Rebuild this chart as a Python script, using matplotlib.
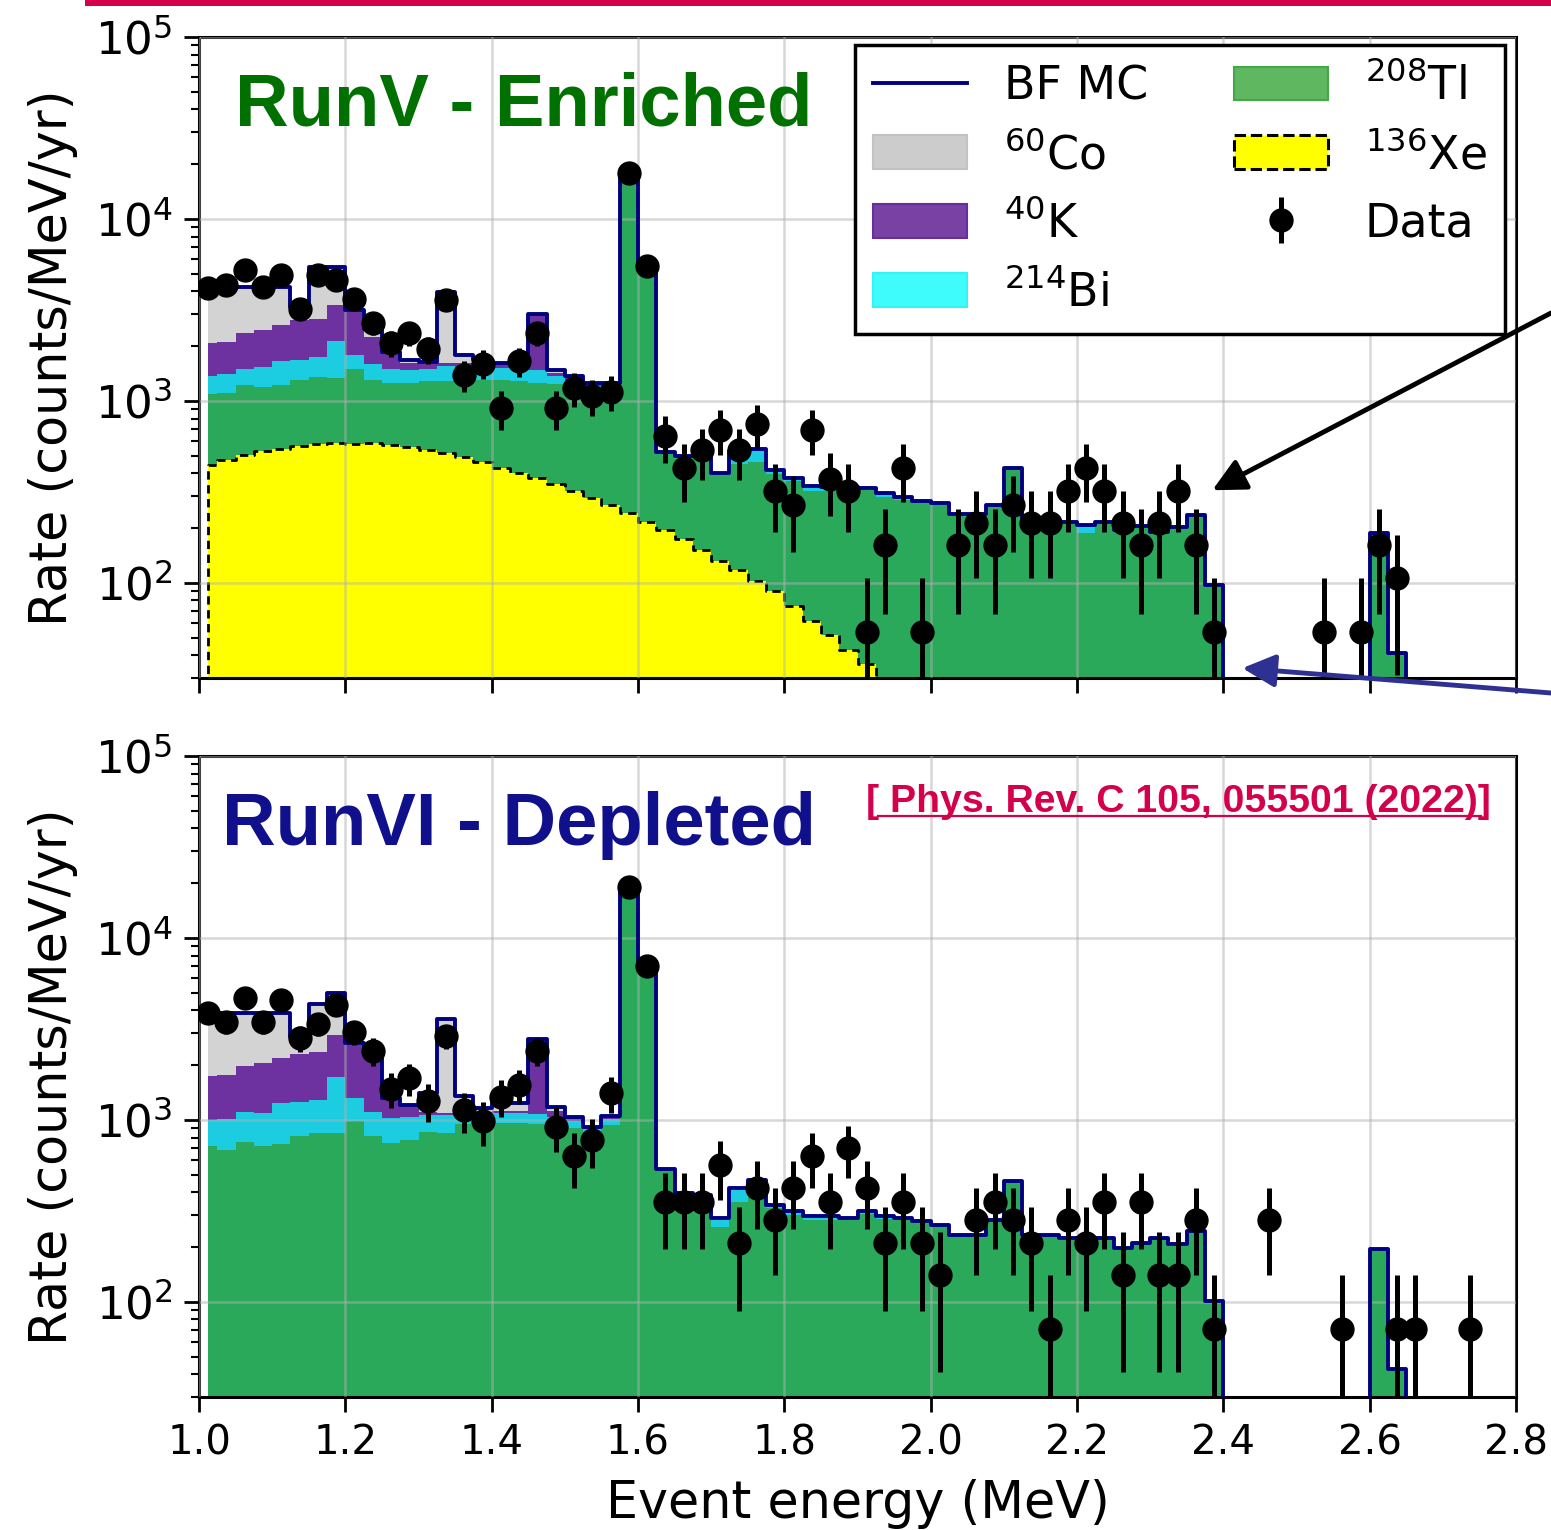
import numpy as np
import matplotlib
matplotlib.use("Agg")
import matplotlib.pyplot as plt
from matplotlib.patches import Patch, Rectangle
from matplotlib.lines import Line2D

# ---- binning: 25 keV bins between 1.0 and 2.8 MeV ----
bin_lo = 1.0
bin_width = 0.025
n_bins = 72

# rate of a single event in one bin (counts/MeV/yr)
rate_per_count_v = 53.5
rate_per_count_vi = 70.5

# ---- Run V (enriched) ----
counts_v = [78, 81, 98, 79, 92, 60, 92, 86, 68, 50,
            39, 44, 36, 67, 26, 30, 17, 31, 44, 17,
            22, 20, 21, 335, 103, 12, 8, 10, 13, 10,
            14, 6, 5, 13, 7, 6, 1, 3, 8, 1,
            0, 3, 4, 3, 5, 4, 4, 6, 8, 6,
            4, 3, 4, 6, 3, 1, 0, 0, 0, 0,
            0, 1, 0, 1, 3, 2, 0, 0, 0, 0,
            0, 0]

xe136_v = [444, 472, 503, 531, 547, 563, 583, 588, 583, 588,
           575, 560, 540, 515, 489, 460, 428, 400, 375, 350,
           318, 292, 268, 243, 215, 195, 175, 152, 132, 117,
           103, 90, 75, 62, 52, 43, 36, 30, 26, 22,
           0, 0, 0, 0, 0, 0, 0, 0, 0, 0,
           0, 0, 0, 0, 0, 0, 0, 0, 0, 0,
           0, 0, 0, 0, 0, 0, 0, 0, 0, 0,
           0, 0]

tl208_v = [654, 633, 717, 654, 673, 748, 772, 740, 923, 712,
           672, 692, 753, 777, 801, 844, 875, 881, 880, 895,
           860, 849, 873, 17555, 5188, 315, 312, 340, 259, 333,
           357, 305, 286, 257, 267, 283, 286, 268, 260, 253,
           267, 233, 233, 262, 421, 221, 221, 211, 188, 211,
           190, 200, 185, 198, 230, 95, 0, 0, 0, 0,
           0, 0, 0, 0, 188, 41, 0, 0, 0, 0,
           0, 0]

bi214_v = [269, 309, 286, 355, 440, 364, 390, 807, 274, 305,
           259, 220, 206, 260, 230, 240, 220, 240, 220, 120,
           110, 60, 60, 100, 60, 15, 12, 12, 12, 80,
           85, 20, 15, 20, 18, 10, 10, 12, 10, 8,
           6, 5, 5, 5, 5, 5, 5, 5, 20, 5,
           5, 5, 5, 5, 5, 2, 0, 0, 0, 0,
           0, 0, 0, 0, 0, 0, 0, 0, 0, 0,
           0, 0]

k40_v = [703, 696, 859, 905, 945, 1100, 1090, 1225, 1320, 645,
         294, 135, 94, 60, 100, 80, 80, 80, 1525, 60,
         40, 30, 30, 20, 20, 0, 0, 0, 0, 0,
         0, 0, 0, 0, 0, 0, 0, 0, 0, 0,
         0, 0, 0, 0, 0, 0, 0, 0, 0, 0,
         0, 0, 0, 0, 0, 0, 0, 0, 0, 0,
         0, 0, 0, 0, 0, 0, 0, 0, 0, 0,
         0, 0]

co60_v = [2080, 2040, 1875, 1795, 1635, 505, 2615, 2090, 50, 250,
          60, 80, 35, 2370, 160, 55, 5, 5, 20, 48,
          35, 17, 17, 80, 20, 0, 0, 0, 0, 0,
          0, 0, 0, 0, 0, 0, 0, 0, 0, 0,
          0, 0, 0, 0, 0, 0, 0, 0, 0, 0,
          0, 0, 0, 0, 0, 0, 0, 0, 0, 0,
          0, 0, 0, 0, 0, 0, 0, 0, 0, 0,
          0, 0]

# ---- Run VI (depleted) ----
counts_vi = [55, 49, 66, 49, 65, 40, 48, 61, 43, 34,
             21, 24, 18, 41, 16, 14, 19, 22, 34, 13,
             9, 11, 20, 269, 100, 5, 5, 5, 8, 3,
             6, 4, 6, 9, 5, 10, 6, 3, 5, 3,
             2, 0, 4, 5, 4, 3, 1, 4, 3, 5,
             2, 5, 2, 2, 4, 1, 0, 0, 4, 0,
             0, 0, 1, 0, 0, 1, 1, 0, 0, 1,
             0, 0]

tl208_vi = [720, 685, 760, 720, 733, 811, 852, 845, 991, 811,
            745, 780, 862, 845, 950, 950, 960, 960, 950, 930,
            900, 860, 940, 18700, 6800, 527, 389, 380, 259, 353,
            379, 327, 300, 280, 283, 281, 305, 285, 281, 272,
            261, 230, 230, 279, 455, 230, 230, 220, 215, 221,
            195, 207, 222, 204, 241, 100, 0, 0, 0, 0,
            0, 0, 0, 0, 196, 43, 0, 0, 0, 0,
            0, 0]

bi214_vi = [280, 325, 350, 368, 502, 449, 435, 882, 324, 299,
            276, 260, 198, 225, 130, 130, 130, 130, 130, 110,
            90, 40, 70, 100, 60, 10, 8, 8, 30, 70,
            90, 15, 15, 15, 12, 8, 10, 10, 8, 5,
            5, 4, 4, 4, 4, 4, 4, 5, 10, 4,
            3, 3, 3, 3, 3, 1, 0, 0, 0, 0,
            0, 0, 0, 0, 0, 0, 0, 0, 0, 0,
            0, 0]

k40_vi = [742, 755, 867, 958, 943, 1040, 1079, 1197, 1260, 1068,
          279, 150, 40, 18, 40, 30, 30, 30, 1660, 80,
          30, 10, 30, 0, 20, 0, 0, 0, 0, 0,
          0, 0, 0, 0, 0, 0, 0, 0, 0, 0,
          0, 0, 0, 0, 0, 0, 0, 0, 0, 0,
          0, 0, 0, 0, 0, 0, 0, 0, 0, 0,
          0, 0, 0, 0, 0, 0, 0, 0, 0, 0,
          0, 0]

co60_vi = [2108, 2085, 1873, 1804, 1672, 560, 1994, 2066, 55, 137,
           15, 18, 300, 2519, 234, 50, 115, 115, 27, 63,
           22, 9, 12, 100, 40, 0, 0, 0, 0, 0,
           0, 0, 0, 0, 0, 0, 0, 0, 0, 0,
           0, 0, 0, 0, 0, 0, 0, 0, 0, 0,
           0, 0, 0, 0, 0, 0, 0, 0, 0, 0,
           0, 0, 0, 0, 0, 0, 0, 0, 0, 0,
           0, 0]

x_ticks = [1.0, 1.2, 1.4, 1.6, 1.8, 2.0, 2.2, 2.4, 2.6, 2.8]
x_ticklabels = ["1.0", "1.2", "1.4", "1.6", "1.8", "2.0", "2.2", "2.4", "2.6", "2.8"]

# ---- colours ----
c_navy = "#000080"
c_tl = "#2ba95b"
c_bi = "#1ccde2"
c_k = "#6d32a0"
c_co = "#d3d3d3"
c_xe = "#ffff00"

edges = bin_lo + bin_width * np.arange(n_bins + 1)
centers = 0.5 * (edges[:-1] + edges[1:])
FLOOR = 1.0

plt.rcParams["font.family"] = ["DejaVu Sans"]
plt.rcParams["mathtext.fontset"] = "dejavusans"

fig = plt.figure(figsize=(15.51, 15.30), dpi=100)
W, H = 1551.0, 1530.0
ax1 = fig.add_axes([199 / W, 1 - 678 / H, 1317 / W, 641 / H])
ax2 = fig.add_axes([199 / W, 1 - 1397 / H, 1317 / W, 641 / H])


def draw_panel(ax, layers, counts, scale, xe=None):
    cum = np.zeros(n_bins)
    for vals, color in layers:
        lower = np.maximum(cum, FLOOR)
        cum = cum + np.asarray(vals, float)
        upper = np.maximum(cum, FLOOR)
        ax.fill_between(centers, lower, upper, step="mid", color=color,
                        lw=0, zorder=1)
    if xe is not None:
        xe = np.asarray(xe, float)
        ax.step(np.r_[centers[0], centers], np.r_[1e-3, np.where(xe > 0, xe, 1e-3)],
                where="mid", color="k", ls=(0, (3, 2)), lw=2.0, zorder=2)
    ax.step(centers, np.where(cum > 0, cum, 1e-3), where="mid",
            color=c_navy, lw=2.8, zorder=3)
    n = np.asarray(counts, float)
    m = n > 0
    rate = n * scale
    err = np.sqrt(n) * scale
    eb = ax.errorbar(centers[m], rate[m], yerr=err[m], fmt="o", color="k",
                     ms=16.5, elinewidth=3.6, capsize=0, zorder=5, label="Data")
    return eb


eb_v = draw_panel(ax1, [(xe136_v, c_xe), (tl208_v, c_tl), (bi214_v, c_bi),
                        (k40_v, c_k), (co60_v, c_co)],
                  counts_v, rate_per_count_v, xe=xe136_v)
draw_panel(ax2, [(tl208_vi, c_tl), (bi214_vi, c_bi), (k40_vi, c_k),
                 (co60_vi, c_co)],
           counts_vi, rate_per_count_vi)

for ax in (ax1, ax2):
    ax.set_yscale("log")
    ax.set_xlim(1.0, 2.8)
    ax.set_ylim(30, 1e5)
    ax.set_xticks(x_ticks)
    ax.set_xticklabels(x_ticklabels)
    ax.set_axisbelow(False)
    ax.grid(True, which="major", color="#b0b0b0", alpha=0.5, lw=1.8)
    ax.tick_params(which="major", direction="out", length=11, width=2.0,
                   labelsize=29, pad=8)
    ax.tick_params(axis="y", which="major", labelsize=32.5, pad=8)
    ax.tick_params(which="minor", direction="out", length=6, width=1.5)
    for sp in ax.spines.values():
        sp.set_linewidth(2.2)
    ax.set_ylabel("Rate (counts/MeV/yr)", fontsize=36.5, labelpad=12)

ax1.tick_params(labelbottom=False)
ax2.set_xlabel("Event energy (MeV)", fontsize=36.5, labelpad=11)

# legend
handles = [
    Line2D([], [], color=c_navy, lw=2.8),
    Patch(facecolor="#cccccc", edgecolor="#c2c2c2", lw=1.5),
    Patch(facecolor="#7841a3", edgecolor="#65309a", lw=1.5),
    Patch(facecolor="#3ffcfc", edgecolor="#36f2f2", lw=1.5),
    Patch(facecolor="#5fb760", edgecolor="#45a848", lw=1.5),
    Patch(facecolor=c_xe, edgecolor="k", ls="--", lw=2.2),
    eb_v,
]
labels = ["BF MC", r"$^{60}$Co", r"$^{40}$K", r"$^{214}$Bi",
          r"$^{208}$Tl", r"$^{136}$Xe", "Data"]
leg = ax1.legend(handles, labels, ncol=2, loc="upper right",
                 bbox_to_anchor=(0.9917, 0.9875), borderaxespad=0,
                 fontsize=33, handlelength=2.05, handleheight=0.75,
                 handletextpad=0.8, columnspacing=1.88, labelspacing=0.5,
                 borderpad=0.40, frameon=True, fancybox=False,
                 edgecolor="k", framealpha=1)
leg.get_frame().set_linewidth(2.5)
leg.set_zorder(10)

# panel titles
ax1.text(0.0273, 0.8627, "RunV - Enriched", transform=ax1.transAxes,
         fontsize=53.5, fontweight="bold", color="#007000",
         family="Liberation Sans", ha="left", va="baseline", zorder=11)
ax2.text(0.0175, 0.861, "RunVI - Depleted", transform=ax2.transAxes,
         fontsize=53.5, fontweight="bold", color="#10108c",
         family="Liberation Sans", ha="left", va="baseline", zorder=11)
ref = ax2.text(0.5065, 0.9126, "[ Phys. Rev. C 105, 055501 (2022)]",
               transform=ax2.transAxes, fontsize=28.3, fontweight="bold",
               color="#d4004c", family="Liberation Sans", ha="left",
               va="baseline", zorder=11)

# arrows pointing at the end of the spectrum
ax1.annotate("", xy=(2.385, 323), xycoords="data",
             xytext=(1.0, 1 - 313 / H), textcoords="figure fraction",
             arrowprops=dict(arrowstyle="-|>", color="k", lw=3.5,
                             mutation_scale=50, shrinkA=0, shrinkB=0),
             annotation_clip=False, zorder=12)
ax1.annotate("", xy=(2.426, 34), xycoords="data",
             xytext=(1.0, 1 - 693 / H), textcoords="figure fraction",
             arrowprops=dict(arrowstyle="-|>", color="#2e3192", lw=3.5,
                             mutation_scale=50, shrinkA=0, shrinkB=0),
             annotation_clip=False, zorder=12)

# crimson bar along the top edge
fig.add_artist(Rectangle((85 / W, 1 - 6 / H), 1.0, 6 / H,
                         transform=fig.transFigure, color="#d5004c", lw=0))

# underline for the reference
fig.canvas.draw()
bb = ref.get_window_extent(fig.canvas.get_renderer())
y_base = ax2.transAxes.transform((0.5065, 0.9126))[1]
fig.add_artist(Line2D([(bb.x0 + 12) / W, (bb.x1 - 10) / W],
                      [(y_base - 4) / H, (y_base - 4) / H],
                      transform=fig.transFigure, color="#d4004c", lw=1.6))

fig.savefig("out.png", dpi=100)
